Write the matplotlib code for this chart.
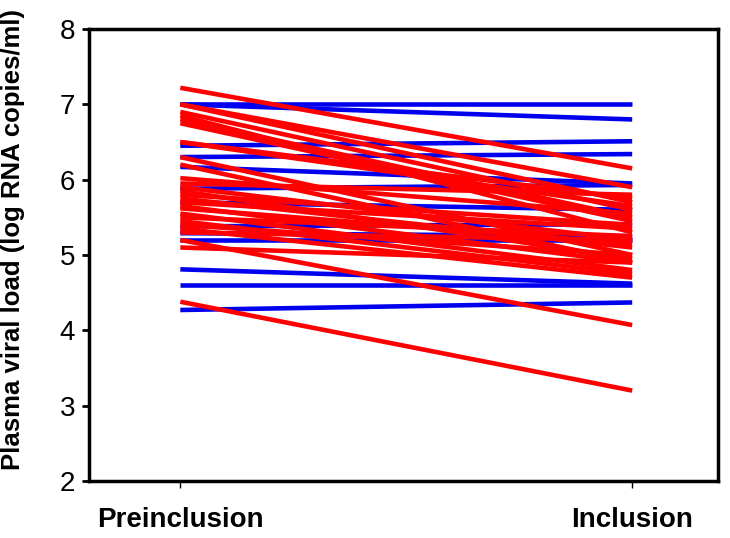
import matplotlib.pyplot as plt

plt.rcParams['font.family'] = ['Liberation Sans', 'DejaVu Sans']

# paired values (preinclusion, inclusion), log RNA copies/ml
blue_pre = [7.00, 7.00, 6.45, 6.30, 6.17, 5.88, 5.70, 5.38, 5.29, 5.20, 4.81, 4.60, 4.27]
blue_inc = [7.00, 6.80, 6.51, 6.34, 5.95, 5.93, 5.60, 5.41, 5.25, 5.20, 4.62, 4.60, 4.37]

red_pre = [7.22, 7.00, 7.00, 6.90, 6.85, 6.80, 6.75, 6.50, 6.50, 6.30, 6.20,
           6.02, 5.95, 5.90, 5.85, 5.80, 5.75, 5.70, 5.65, 5.62,
           5.55, 5.50, 5.45, 5.40, 5.35, 5.30, 5.20, 5.10, 4.38]
red_inc = [6.15, 5.70, 5.90, 5.60, 5.30, 5.50, 5.45, 5.65, 5.75, 5.00, 4.90,
           5.55, 5.80, 5.20, 4.95, 5.40, 5.10, 5.35, 4.90, 5.15,
           4.80, 5.25, 4.75, 5.00, 4.70, 5.20, 4.07, 4.90, 3.20]

groups = ['Preinclusion', 'Inclusion']
x = [0, 1]

fig = plt.figure(figsize=(7.3, 5.38), dpi=100)
ax = fig.add_axes([0.122, 0.106, 0.8616, 0.84])

for a, b in zip(blue_pre, blue_inc):
    ax.plot(x, [a, b], color='#0000ee', lw=3.3, solid_capstyle='butt')
for a, b in zip(red_pre, red_inc):
    ax.plot(x, [a, b], color='#ff0000', lw=3.3, solid_capstyle='butt')

ax.set_xlim(-0.202, 1.19)
ax.set_ylim(2, 8)
ax.set_yticks(range(2, 9))
ax.set_xticks(x)
ax.set_xticklabels(groups, fontsize=20, fontweight='bold')
ax.tick_params(axis='y', labelsize=20, length=5, width=2, direction='out', pad=5)
ax.tick_params(axis='x', length=5, width=1, direction='out', pad=14)
ax.set_ylabel('Plasma viral load (log RNA copies/ml)', fontsize=18.5,
              fontweight='bold')
ax.yaxis.set_label_coords(-0.102, 0.535)
for s in ax.spines.values():
    s.set_linewidth(2.5)

plt.savefig('out.png', dpi=100)
